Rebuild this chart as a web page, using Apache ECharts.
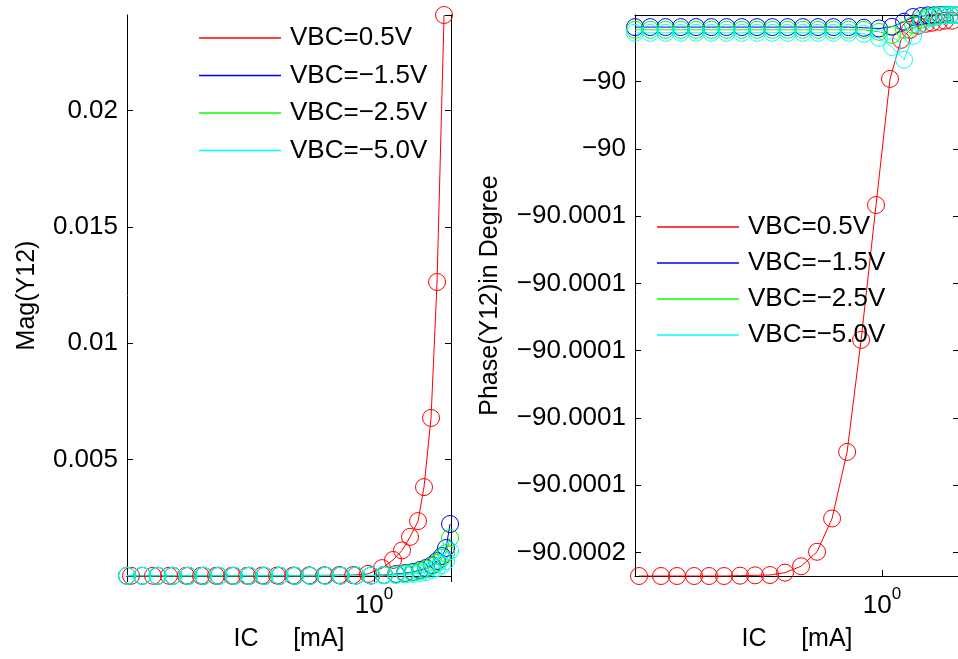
<!DOCTYPE html>
<html><head><meta charset="utf-8">
<script src="https://cdn.jsdelivr.net/npm/echarts@6/dist/echarts.min.js"></script>
<style>html,body{margin:0;padding:0;background:#fff}#c{width:958px;height:659px}</style>
</head><body><div id="c"></div>
<script>
// ---- data ----
const seriesNames = ['VBC=0.5V', 'VBC=\u22121.5V', 'VBC=\u22122.5V', 'VBC=\u22125.0V'];
const colors = ['#ff0000', '#0000ff', '#00ff00', '#00ffff'];
const xAxisName = 'IC     [mA]';
const magAxisName = 'Mag(Y12)';
const phaseAxisName = 'Phase(Y12)in Degree';
const xRange = [0.2, 1.651];
const magRange = [0, 0.0241];
const phaseRange = [-90.000167, -90.0000002];

// IC [mA] for VBC=0.5V
const icRed = [0.2053, 0.2369, 0.2630, 0.2938, 0.3239, 0.3572, 0.3965, 0.4372, 0.4821, 0.5315,
  0.5901, 0.6549, 0.7222, 0.7964, 0.8725, 0.9617, 1.0535, 1.1318, 1.2002, 1.2646,
  1.3322, 1.3848, 1.4497, 1.5075, 1.5779];
// IC [mA] for reverse-biased VBC (-1.5, -2.5, -5.0 V)
const icRev = [0.2000, 0.2209, 0.2440, 0.2695, 0.2977, 0.3288, 0.3631, 0.4010, 0.4429, 0.4892,
  0.5403, 0.5968, 0.6592, 0.7281, 0.8042, 0.8882, 0.9806, 1.0673, 1.1541, 1.2241,
  1.2896, 1.3497, 1.4034, 1.4592, 1.5076, 1.5576, 1.5987, 1.6409];

const magRed = [0.00001, 0.00001, 0.00001, 0.00001, 0.00001, 0.00001, 0.00001, 0.00001, 0.00002, 0.00002,
  0.00002, 0.00003, 0.00003, 0.00004, 0.00004, 0.00009, 0.00034, 0.00069, 0.00110, 0.00168,
  0.00236, 0.00382, 0.00679, 0.01263, 0.02410];
const magBlue = [0.00001, 0.00001, 0.00001, 0.00001, 0.00001, 0.00001, 0.00001, 0.00001, 0.00001, 0.00001,
  0.00001, 0.00001, 0.00001, 0.00002, 0.00002, 0.00002, 0.00002, 0.000043, 0.000086, 0.000129,
  0.000172, 0.000258, 0.000344, 0.000473, 0.000644, 0.000859, 0.001203, 0.002234];
const magGreen = [0.00001, 0.00001, 0.00001, 0.00001, 0.00001, 0.00001, 0.00001, 0.00001, 0.00001, 0.00001,
  0.00001, 0.00001, 0.00001, 0.00002, 0.00002, 0.00002, 0.00002, 0.000043, 0.000064, 0.000107,
  0.000150, 0.000215, 0.000301, 0.000430, 0.000558, 0.000773, 0.000988, 0.001632];
const magCyan = [0.00001, 0.00001, 0.00001, 0.00001, 0.00001, 0.00001, 0.00001, 0.00001, 0.00001, 0.00001,
  0.00001, 0.00001, 0.00001, 0.00001, 0.00002, 0.00002, 0.00002, 0.000030, 0.000043, 0.000064,
  0.000086, 0.000129, 0.000172, 0.000258, 0.000344, 0.000473, 0.000644, 0.001074];

const phRed = [-90.000167, -90.000167, -90.000167, -90.000167, -90.000167, -90.000167, -90.0001669, -90.0001668,
  -90.0001667, -90.0001660, -90.0001641, -90.0001598, -90.0001499, -90.0001301, -90.0000968, -90.0000567,
  -90.0000192, -90.0000076, -90.0000046, -90.0000034, -90.0000028, -90.0000025, -90.0000022, -90.0000019,
  -90.0000019];
const phBlue = [-90.0000038, -90.0000038, -90.0000038, -90.0000038, -90.0000038, -90.0000038, -90.0000038,
  -90.0000038, -90.0000038, -90.0000038, -90.0000038, -90.0000038, -90.0000038, -90.0000038, -90.0000038,
  -90.0000040, -90.0000042, -90.0000037, -90.0000022, -90.0000008, -90.0000005, -90.0000003, -90.0000003,
  -90.0000002, -90.0000002, -90.0000002, -90.0000002, -90.0000002];
const phGreen = [-90.0000046, -90.0000046, -90.0000046, -90.0000046, -90.0000046, -90.0000046, -90.0000046,
  -90.0000046, -90.0000046, -90.0000046, -90.0000046, -90.0000046, -90.0000046, -90.0000046, -90.0000046,
  -90.0000046, -90.0000052, -90.0000061, -90.0000046, -90.0000031, -90.0000016, -90.0000008, -90.0000005,
  -90.0000003, -90.0000003, -90.0000002, -90.0000002, -90.0000002];
const phCyan = [-90.0000055, -90.0000055, -90.0000055, -90.0000055, -90.0000055, -90.0000055, -90.0000055,
  -90.0000055, -90.0000055, -90.0000055, -90.0000055, -90.0000055, -90.0000055, -90.0000055, -90.0000055,
  -90.0000058, -90.0000070, -90.0000097, -90.0000135, -90.0000064, -90.0000028, -90.0000013, -90.0000008,
  -90.0000005, -90.0000003, -90.0000003, -90.0000002, -90.0000002];

// ---- chart ----
const FONT = '"Liberation Sans", Arial, Helvetica, sans-serif';
const black = '#000';
const pairs = (xs, ys) => xs.map((x, i) => [x, ys[i]]);

function logLabel(v) {
  const e = Math.log10(v);
  if (Math.abs(e - Math.round(e)) < 1e-6) return '{b|10}{s|' + Math.round(e) + '}';
  return '';
}
function phaseLabel(v) {
  return String(Math.round(v * 1e4) / 1e4).replace('-', '\u2212');
}

function xAx(gi, pos, main) {
  return {
    type: 'log', logBase: 10, gridIndex: gi, position: pos,
    min: xRange[0], max: xRange[1],
    axisLine: { show: true, lineStyle: { color: black, width: 1 } },
    axisTick: { show: true, inside: true, length: 6, lineStyle: { color: black } },
    minorTick: { show: false }, splitLine: { show: false },
    axisLabel: main ? {
      show: true, margin: 10, showMinLabel: false, showMaxLabel: false,
      formatter: logLabel,
      rich: {
        b: { fontSize: 26, fontFamily: FONT, color: black, lineHeight: 40 },
        s: { fontSize: 17, fontFamily: FONT, color: black, lineHeight: 18, verticalAlign: 'top' }
      }
    } : { show: false },
    name: main ? xAxisName : '', nameLocation: 'middle', nameGap: 51,
    nameTextStyle: { fontSize: 25, fontFamily: FONT, color: black }
  };
}
function yAx(gi, pos, main, extra) {
  return Object.assign({
    type: 'value', gridIndex: gi, position: pos, scale: true,
    axisLine: { show: true, onZero: false, lineStyle: { color: black, width: 1 } },
    axisTick: { show: true, inside: true, length: 6, lineStyle: { color: black } },
    splitLine: { show: false },
    nameLocation: 'middle', nameTextStyle: { fontSize: 25, fontFamily: FONT, color: black }
  }, extra, {
    axisLabel: main ? Object.assign({ show: true, margin: 9, showMinLabel: false, showMaxLabel: false,
      fontSize: 26, fontFamily: FONT, color: black }, extra.axisLabel || {}) : { show: false }
  });
}

const magY = { min: magRange[0], max: magRange[1], interval: 0.005 };
const phY = { min: phaseRange[0], max: phaseRange[1], splitNumber: 8, axisLabel: { formatter: phaseLabel } };

function mkSeries(name, color, data, xi, yi) {
  return {
    type: 'line', name: name, data: data, xAxisIndex: xi, yAxisIndex: yi,
    symbol: 'circle', symbolSize: 17, showSymbol: true, clip: false, silent: true,
    itemStyle: { color: 'rgba(0,0,0,0)', borderColor: color, borderWidth: 1 },
    lineStyle: { color: color, width: 1 },
    emphasis: { disabled: true }, animation: false
  };
}

const magSets = [pairs(icRed, magRed), pairs(icRev, magBlue), pairs(icRev, magGreen), pairs(icRev, magCyan)];
const phSets = [pairs(icRed, phRed), pairs(icRev, phBlue), pairs(icRev, phGreen), pairs(icRev, phCyan)];

const series = [];
magSets.forEach((d, i) => series.push(mkSeries(seriesNames[i], colors[i], d, 0, 0)));
phSets.forEach((d, i) => series.push(mkSeries(seriesNames[i], colors[i], d, 2, 2)));

function legend(left, top, gap) {
  return {
    orient: 'vertical', left: left, top: top, padding: 0, itemGap: gap,
    itemWidth: 82, itemHeight: 1.5, icon: 'rect', selectedMode: false,
    textStyle: { fontSize: 26, fontFamily: FONT, color: black, lineHeight: 30, padding: [0, 0, 0, 4] },
    data: seriesNames.map((n, i) => ({ name: n, itemStyle: { color: colors[i], borderWidth: 0, opacity: 1 } }))
  };
}

const chart = echarts.init(document.getElementById('c'), null, { renderer: 'canvas' });
chart.setOption({
  animation: false,
  backgroundColor: '#fff',
  grid: [
    { left: 127, top: 15, width: 324, height: 561, containLabel: false, outerBoundsMode: 'none' },
    { left: 635, top: 15, width: 324, height: 561, containLabel: false, outerBoundsMode: 'none' }
  ],
  xAxis: [xAx(0, 'bottom', true), xAx(0, 'top', false), xAx(1, 'bottom', true), xAx(1, 'top', false)],
  yAxis: [
    yAx(0, 'left', true, Object.assign({ name: magAxisName, nameGap: 87 }, magY)),
    yAx(0, 'right', false, magY),
    yAx(1, 'left', true, Object.assign({ name: phaseAxisName, nameGap: 132 }, phY)),
    yAx(1, 'right', false, phY)
  ],
  legend: [legend(199, 23, 7.5), legend(657, 212, 6)],
  series: series
});
</script></body></html>
